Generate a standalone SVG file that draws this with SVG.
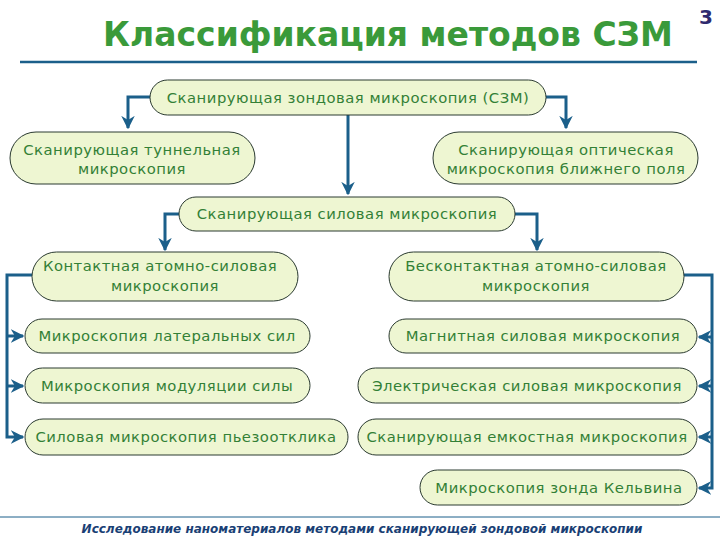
<svg xmlns="http://www.w3.org/2000/svg" width="720" height="540" viewBox="0 0 720 540">
<style>
.n rect{fill:#eef6d2;stroke:#2a3a30;stroke-width:1}
.n text{font-family:"DejaVu Sans",Verdana,sans-serif;font-size:14.8px;fill:#338036;text-anchor:middle;letter-spacing:0.5px}
.c path{fill:none;stroke:#1b5f8a;stroke-width:3}
</style>
<defs>
<marker id="ah" viewBox="0 0 10 10" refX="9" refY="5" markerWidth="4.5" markerHeight="4.5" orient="auto" markerUnits="strokeWidth">
<path d="M0,0 L10,5 L0,10 L3,5 Z" fill="#1b5f8a"/>
</marker>
</defs>
<rect width="720" height="540" fill="#fff"/>
<text x="388" y="46" font-family="DejaVu Sans,Verdana,sans-serif" font-weight="bold" font-size="33" fill="#3a9a3a" text-anchor="middle">Классификация методов СЗМ</text>
<text x="706" y="24" font-family="DejaVu Sans,Verdana,sans-serif" font-weight="bold" font-size="20" fill="#2e2a6e" text-anchor="middle">3</text>
<line x1="20" y1="62" x2="697" y2="62" stroke="#1b5f8a" stroke-width="2.5"/>

<g class="c">
<path d="M150,97 H128 V128" marker-end="url(#ah)"/>
<path d="M546,97 H566 V128" marker-end="url(#ah)"/>
<path d="M348,115 V194" marker-end="url(#ah)"/>
<path d="M179,214 H165 V250" marker-end="url(#ah)"/>
<path d="M515,214 H537 V250" marker-end="url(#ah)"/>
<path d="M32,275 H7 V437 H23" marker-end="url(#ah)"/>
<path d="M7,336 H23" marker-end="url(#ah)"/>
<path d="M7,386 H23" marker-end="url(#ah)"/>
<path d="M684,275 H712 V488 H699" marker-end="url(#ah)"/>
<path d="M712,337 H699" marker-end="url(#ah)"/>
<path d="M712,386 H699" marker-end="url(#ah)"/>
<path d="M712,437 H699" marker-end="url(#ah)"/>
</g>

<g id="n1" class="n"><rect x="150" y="80" width="396" height="35" rx="17.5"/><text x="348" y="103">Сканирующая зондовая микроскопия (СЗМ)</text></g>
<g id="n2" class="n"><rect x="10" y="132" width="245" height="52" rx="26"/><text x="132" y="155">Сканирующая туннельная</text><text x="132" y="174">микроскопия</text></g>
<g id="n3" class="n"><rect x="433" y="132" width="265" height="52" rx="26"/><text x="566" y="155">Сканирующая оптическая</text><text x="566" y="174">микроскопия ближнего поля</text></g>
<g id="n4" class="n"><rect x="179" y="197" width="336" height="34" rx="17"/><text x="347" y="219">Сканирующая силовая микроскопия</text></g>
<g id="n5" class="n"><rect x="32" y="252" width="266" height="49" rx="24.5"/><text x="160" y="271">Контактная атомно-силовая</text><text x="165" y="291">микроскопия</text></g>
<g id="n6" class="n"><rect x="389" y="252" width="295" height="49" rx="24.5"/><text x="536" y="271">Бесконтактная атомно-силовая</text><text x="536" y="291">микроскопия</text></g>
<g id="n7" class="n"><rect x="25" y="319" width="285" height="34" rx="17"/><text x="167" y="341">Микроскопия латеральных сил</text></g>
<g id="n8" class="n"><rect x="25" y="368" width="285" height="35" rx="17.5"/><text x="167" y="391">Микроскопия модуляции силы</text></g>
<g id="n9" class="n"><rect x="25" y="419" width="323" height="36" rx="18"/><text x="186" y="442">Силовая микроскопия пьезоотклика</text></g>
<g id="n10" class="n"><rect x="389" y="319" width="308" height="34" rx="17"/><text x="543" y="341">Магнитная силовая микроскопия</text></g>
<g id="n11" class="n"><rect x="358" y="368" width="339" height="35" rx="17.5"/><text x="527" y="391">Электрическая силовая микроскопия</text></g>
<g id="n12" class="n"><rect x="358" y="419" width="339" height="36" rx="18"/><text x="527" y="442">Сканирующая емкостная микроскопия</text></g>
<g id="n13" class="n"><rect x="420" y="470" width="277" height="35" rx="17.5"/><text x="559" y="493">Микроскопия зонда Кельвина</text></g>

<line x1="0" y1="517" x2="720" y2="517" stroke="#1b5f8a" stroke-width="1"/>
<text x="362" y="533" font-family="DejaVu Sans,Verdana,sans-serif" font-weight="bold" font-style="italic" font-size="12" fill="#1a3f75" text-anchor="middle">Исследование наноматериалов методами сканирующей зондовой микроскопии</text>
</svg>
